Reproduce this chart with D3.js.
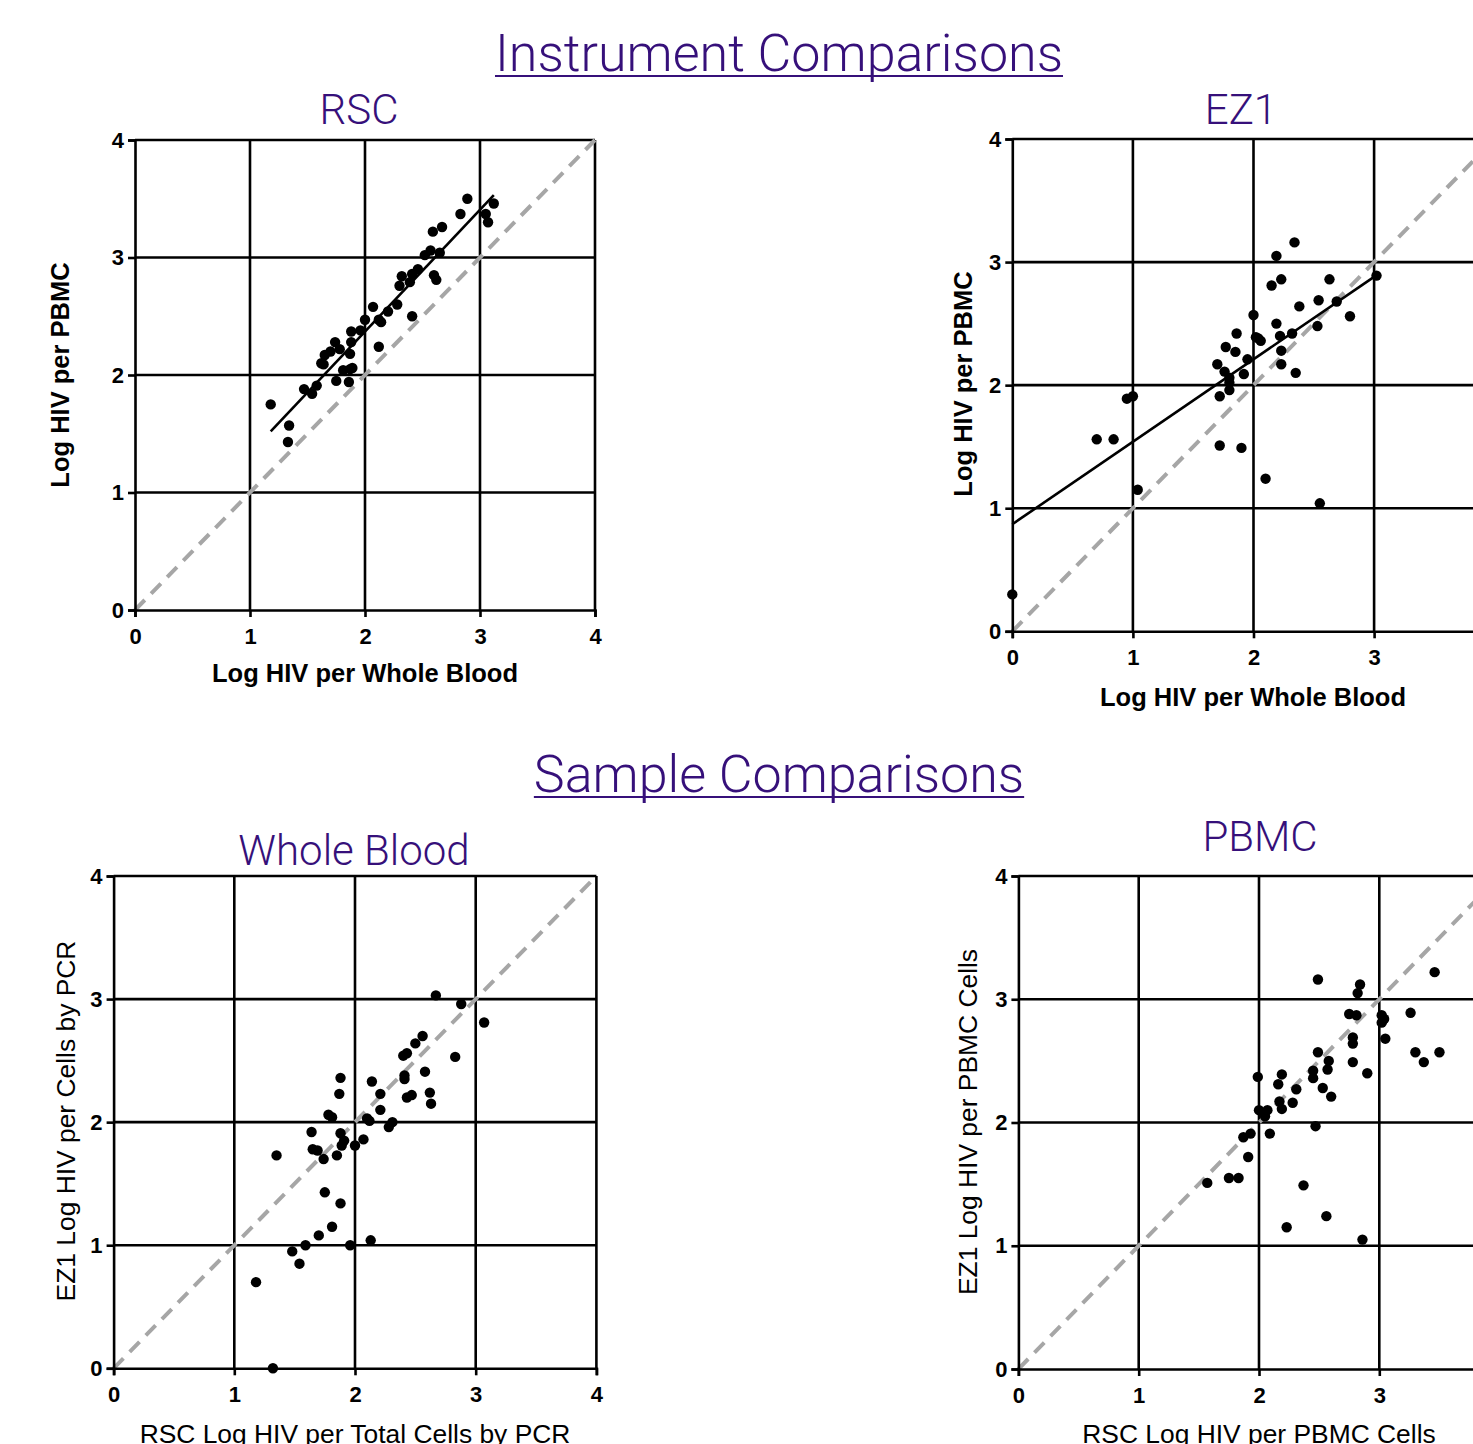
<!DOCTYPE html>
<html>
<head>
<meta charset="utf-8">
<script src="https://cdn.jsdelivr.net/npm/d3@7"></script>
<style>
  html, body { margin: 0; padding: 0; background: #fff; overflow: hidden; }
  svg { display: block; }
</style>
</head>
<body>
<svg id="chart" width="1473" height="1444"></svg>
<script>
// ---------- DATA ----------
const tickValues = [0, 1, 2, 3, 4];
const tickLabels = ["0", "1", "2", "3", "4"];

// Panel RSC: [Log HIV per Whole Blood, Log HIV per PBMC]
const rscPoints = [
  [1.18,1.75],[1.34,1.57],[1.33,1.43],[1.47,1.88],[1.54,1.84],[1.58,1.91],[1.62,2.10],[1.64,2.09],
  [1.65,2.17],[1.70,2.20],[1.74,2.28],[1.78,2.22],[1.87,2.18],[1.75,1.95],[1.81,2.04],[1.86,1.94],
  [1.87,2.05],[1.89,2.06],[1.88,2.37],[1.88,2.28],[1.96,2.38],[2.00,2.47],[2.07,2.58],[2.12,2.47],
  [2.14,2.45],[2.12,2.24],[2.20,2.54],[2.28,2.60],[2.30,2.76],[2.32,2.84],[2.39,2.79],[2.41,2.86],
  [2.46,2.90],[2.41,2.50],[2.52,3.02],[2.57,3.06],[2.65,3.04],[2.60,2.85],[2.62,2.81],[2.59,3.22],
  [2.67,3.26],[2.83,3.37],[2.89,3.50],[3.05,3.37],[3.07,3.30],[3.12,3.46]
];
const rscFit = [[1.18,1.52],[3.12,3.53]];

// Panel EZ1
const ez1Points = [
  [2.34,3.16],[2.19,3.05],[2.23,2.86],[2.15,2.81],[2.63,2.86],[3.02,2.89],[2.54,2.69],[2.38,2.64],
  [2.69,2.68],[2.80,2.56],[2.53,2.48],[2.00,2.57],[2.19,2.50],[2.32,2.42],[2.22,2.40],[2.04,2.38],
  [2.06,2.36],[2.02,2.39],[1.86,2.42],[1.77,2.31],[1.85,2.27],[2.23,2.28],[2.23,2.17],[1.95,2.21],
  [1.70,2.17],[1.76,2.11],[1.92,2.09],[1.80,2.06],[1.80,2.02],[1.80,1.96],[1.72,1.91],[2.35,2.10],
  [1.00,1.91],[0.95,1.89],[0.70,1.56],[0.84,1.56],[1.72,1.51],[1.90,1.49],[2.10,1.24],[1.04,1.15],
  [2.55,1.04],[0.00,0.30]
];
const ez1Fit = [[0,0.87],[3.03,2.90]];

// Panel Whole Blood: [RSC Log HIV per Total Cells by PCR, EZ1 Log HIV per Cells by PCR]
const wbPoints = [
  [2.67,3.03],[2.88,2.96],[3.07,2.81],[2.56,2.70],[2.50,2.64],[2.40,2.54],[2.43,2.56],[2.83,2.53],
  [2.58,2.41],[2.41,2.38],[2.41,2.35],[1.88,2.36],[2.14,2.33],[2.21,2.23],[1.87,2.23],[2.43,2.20],
  [2.47,2.22],[2.62,2.24],[2.63,2.15],[2.21,2.10],[1.78,2.06],[1.81,2.04],[2.10,2.03],[2.12,2.01],
  [2.31,2.00],[2.28,1.96],[1.64,1.92],[1.88,1.91],[1.91,1.85],[1.89,1.81],[2.07,1.86],[2.00,1.81],
  [1.65,1.78],[1.69,1.77],[1.74,1.70],[1.85,1.73],[1.35,1.73],[1.75,1.43],[1.88,1.34],[1.81,1.15],
  [1.70,1.08],[1.59,1.00],[1.48,0.95],[1.54,0.85],[1.96,1.00],[2.13,1.04],[1.18,0.70],[1.32,0.00]
];

// Panel PBMC: [RSC Log HIV per PBMC Cells, EZ1 Log HIV per PBMC Cells]
const pbmcPoints = [
  [2.49,3.16],[2.84,3.12],[2.82,3.05],[3.46,3.22],[2.75,2.88],[2.81,2.87],[3.02,2.87],[3.04,2.84],
  [3.02,2.81],[3.26,2.89],[3.05,2.68],[2.78,2.69],[2.78,2.64],[3.30,2.57],[3.37,2.49],[3.50,2.57],
  [2.49,2.57],[2.58,2.50],[2.57,2.43],[2.78,2.49],[2.90,2.40],[2.45,2.42],[2.45,2.36],[2.19,2.39],
  [2.16,2.31],[1.99,2.37],[2.31,2.27],[2.53,2.28],[2.60,2.21],[2.17,2.17],[2.28,2.16],[2.19,2.11],
  [2.00,2.10],[2.07,2.10],[2.05,2.05],[2.09,1.91],[2.47,1.97],[1.93,1.91],[1.87,1.88],[1.91,1.72],
  [1.83,1.55],[1.75,1.55],[1.57,1.51],[2.37,1.49],[2.56,1.24],[2.23,1.15],[2.86,1.05]
];

const sectionTitles = ["Instrument Comparisons", "Sample Comparisons"];
const panelTitles = ["RSC", "EZ1", "Whole Blood", "PBMC"];
const xLabels = ["Log HIV per Whole Blood", "Log HIV per Whole Blood", "RSC Log HIV per Total Cells by PCR", "RSC Log HIV per PBMC Cells"];
const yLabels = ["Log HIV per PBMC", "Log HIV per PBMC", "EZ1 Log HIV per Cells by PCR", "EZ1 Log HIV per PBMC Cells"];

// ---------- LAYOUT ----------
const purple = "#36107a";
const svg = d3.select("#chart");
const sans = "'Liberation Sans', Arial, Helvetica, sans-serif";
const lightFont = "Roboto, 'Liberation Sans', Arial, sans-serif";

const panels = [
  { x0: 135, x4: 595, y0: 610, y4: 140, pts: rscPoints, fit: rscFit, title: panelTitles[0], tx: 359, ty: 124,
    xl: xLabels[0], yl: yLabels[0], xlx: 365, xly: 682, ylx: 69, yly: 375, bold: true, tickFs: 22, labFs: 25.5 },
  { x0: 1012.3, x4: 1494.7, y0: 631.3, y4: 139, pts: ez1Points, fit: ez1Fit, title: panelTitles[1], tx: 1241, ty: 124,
    xl: xLabels[1], yl: yLabels[1], xlx: 1253, xly: 706, ylx: 972, yly: 384, bold: true, tickFs: 22, labFs: 25.5 },
  { x0: 113.6, x4: 596.4, y0: 1368.3, y4: 876, pts: wbPoints, fit: null, title: panelTitles[2], tx: 354, ty: 865,
    xl: xLabels[2], yl: yLabels[2], xlx: 355, xly: 1443, ylx: 75, yly: 1121, bold: false, tickFs: 22, labFs: 26.4 },
  { x0: 1018.4, x4: 1499.6, y0: 1369, y4: 876, pts: pbmcPoints, fit: null, title: panelTitles[3], tx: 1260, ty: 851,
    xl: xLabels[3], yl: yLabels[3], xlx: 1259, xly: 1443, ylx: 977, yly: 1122, bold: false, tickFs: 22, labFs: 26.4 }
];

// Section titles with underline
function underlinedTitle(text, cx, baseline) {
  const t = svg.append("text")
    .attr("x", cx).attr("y", baseline)
    .attr("text-anchor", "middle")
    .attr("font-family", lightFont).attr("font-weight", 300)
    .attr("font-size", 52).attr("fill", purple)
    .text(text);
  const w = t.node().getComputedTextLength();
  svg.append("line")
    .attr("x1", cx - w / 2).attr("x2", cx + w / 2)
    .attr("y1", baseline + 5).attr("y2", baseline + 5)
    .attr("stroke", purple).attr("stroke-width", 2.2);
}
underlinedTitle(sectionTitles[0], 779, 71);
underlinedTitle(sectionTitles[1], 779, 792);

panels.forEach(p => {
  const x = d3.scaleLinear().domain([0, 4]).range([p.x0, p.x4]);
  const y = d3.scaleLinear().domain([0, 4]).range([p.y0, p.y4]);
  const g = svg.append("g");

  // grid lines (1..4)
  g.selectAll(".vg").data(tickValues.slice(1)).join("line")
    .attr("x1", d => x(d)).attr("x2", d => x(d))
    .attr("y1", y(0)).attr("y2", y(4))
    .attr("stroke", "#000").attr("stroke-width", 2.6);
  g.selectAll(".hg").data(tickValues.slice(1)).join("line")
    .attr("x1", x(0)).attr("x2", x(4))
    .attr("y1", d => y(d)).attr("y2", d => y(d))
    .attr("stroke", "#000").attr("stroke-width", 2.6);

  // identity dashed line
  g.append("line")
    .attr("x1", x(0)).attr("y1", y(0)).attr("x2", x(4)).attr("y2", y(4))
    .attr("stroke", "#a6a6a6").attr("stroke-width", 4)
    .attr("stroke-dasharray", "14,9");

  // axes
  const xAxis = d3.axisBottom(x).tickValues(tickValues).tickFormat((d, i) => tickLabels[i]).tickSize(7).tickPadding(11);
  const yAxis = d3.axisLeft(y).tickValues(tickValues).tickFormat((d, i) => tickLabels[i]).tickSize(7).tickPadding(4);
  const gx = g.append("g").attr("transform", `translate(0,${y(0)})`).call(xAxis);
  const gy = g.append("g").attr("transform", `translate(${x(0)},0)`).call(yAxis);
  [gx, gy].forEach(a => {
    a.select(".domain").attr("stroke", "#000").attr("stroke-width", 2.6);
    a.selectAll(".tick line").attr("stroke", "#000").attr("stroke-width", 2.6);
    a.selectAll(".tick text").attr("fill", "#000")
      .attr("font-family", sans).attr("font-weight", "bold").attr("font-size", p.tickFs);
  });

  // fit line
  if (p.fit) {
    g.append("line")
      .attr("x1", x(p.fit[0][0])).attr("y1", y(p.fit[0][1]))
      .attr("x2", x(p.fit[1][0])).attr("y2", y(p.fit[1][1]))
      .attr("stroke", "#000").attr("stroke-width", 2.6);
  }

  // points
  g.selectAll(".pt").data(p.pts).join("circle")
    .attr("cx", d => x(d[0])).attr("cy", d => y(d[1]))
    .attr("r", 5.2).attr("fill", "#000");

  // panel title
  svg.append("text")
    .attr("x", p.tx).attr("y", p.ty).attr("text-anchor", "middle")
    .attr("font-family", lightFont).attr("font-weight", 300)
    .attr("font-size", 42).attr("fill", purple)
    .text(p.title);

  // axis labels
  svg.append("text")
    .attr("x", p.xlx).attr("y", p.xly).attr("text-anchor", "middle")
    .attr("font-family", sans).attr("font-weight", p.bold ? "bold" : "normal")
    .attr("font-size", p.labFs).attr("fill", "#000")
    .text(p.xl);
  svg.append("text")
    .attr("transform", `translate(${p.ylx},${p.yly}) rotate(-90)`)
    .attr("text-anchor", "middle")
    .attr("font-family", sans).attr("font-weight", p.bold ? "bold" : "normal")
    .attr("font-size", p.labFs).attr("fill", "#000")
    .text(p.yl);
});
</script>
</body>
</html>
